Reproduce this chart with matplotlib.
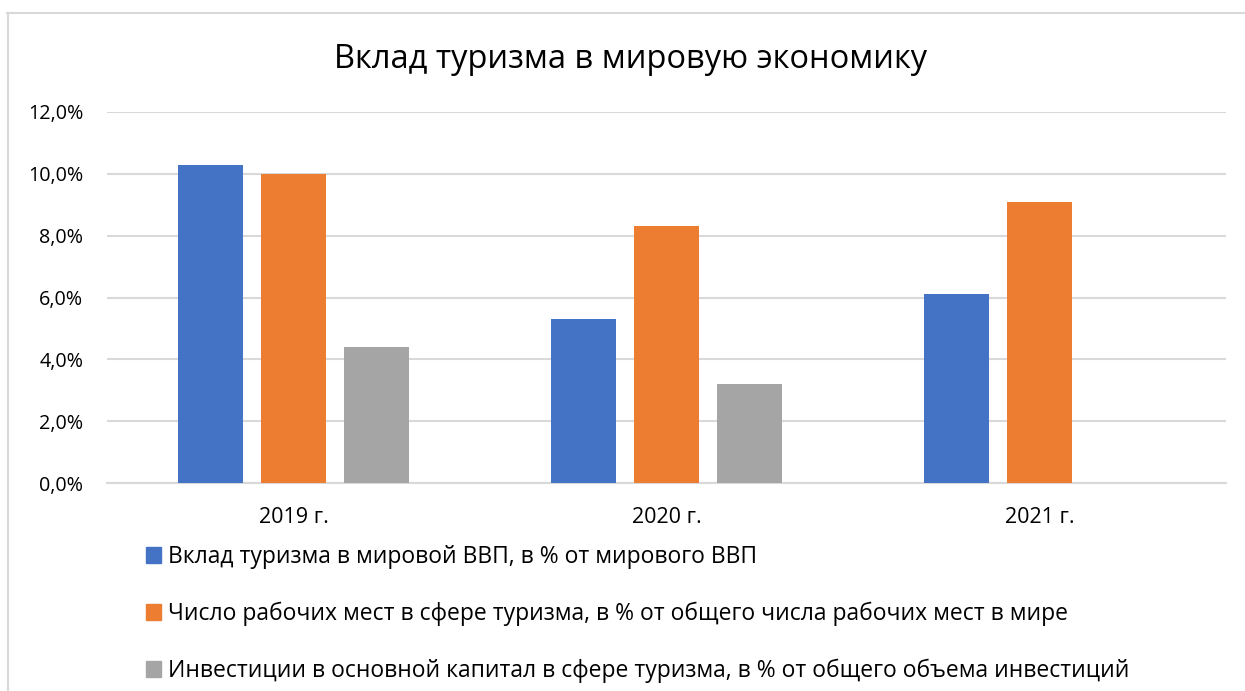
import numpy as np
import matplotlib
matplotlib.use("Agg")
import matplotlib.pyplot as plt
from matplotlib.patches import Patch
from matplotlib.lines import Line2D
from matplotlib.ticker import FuncFormatter

plt.rcParams['font.family'] = ['Open Sans', 'DejaVu Sans']

# ---------- data ----------
years = ["2019 г.", "2020 г.", "2021 г."]
gdp_share = [10.3, 5.3, 6.1]
jobs_share = [10.0, 8.3, 9.1]
invest_share = [4.4, 3.2, 0.0]
series_names = [
    "Вклад туризма в мировой ВВП, в % от мирового ВВП",
    "Число рабочих мест в сфере туризма, в % от общего числа рабочих мест в мире",
    "Инвестиции в основной капитал в сфере туризма, в % от общего объема инвестиций",
]
colors = ["#4472c4", "#ed7d31", "#a5a5a5"]

W, H = 1245, 691
fig = plt.figure(figsize=(W / 100, H / 100), dpi=100)
ax = fig.add_axes([107 / W, 1 - 483 / H, (1226 - 107) / W, (483 - 112) / H])

x = np.arange(len(years))
width = 0.174
step = 0.222
for i, (vals, col) in enumerate(zip([gdp_share, jobs_share, invest_share], colors)):
    ax.bar(x + (i - 1) * step, vals, width, color=col, zorder=3)

ax.set_xlim(-0.5, 2.5)
ax.set_ylim(0, 12)
ax.set_yticks(np.arange(0, 12.1, 2))
ax.yaxis.set_major_formatter(FuncFormatter(lambda v, p: f"{v:.1f}%".replace(".", ",")))
ax.set_xticks(x)
ax.set_xticklabels(years)
ax.grid(axis="y", color="#d9d9d9", linewidth=1.5, zorder=0)
for s in ["top", "right", "left"]:
    ax.spines[s].set_visible(False)
ax.spines["bottom"].set_color("#d9d9d9")
ax.spines["bottom"].set_linewidth(1.5)
ax.tick_params(length=0, colors="#000000")
ax.tick_params(axis="y", labelsize=14.2, pad=17)
ax.tick_params(axis="x", labelsize=15.5, pad=17)

fig.text(631 / W, 1 - 60 / H, "Вклад туризма в мировую экономику", ha="center", va="center",
         fontsize=23.5)

handles = [Patch(color=c) for c in colors]
fig.legend(handles, series_names, loc="upper left", bbox_to_anchor=(137 / W, 1 - 536 / H),
           frameon=False, fontsize=16.5, handlelength=0.65, handleheight=0.65,
           handletextpad=0.3, labelspacing=1.42, borderaxespad=0)

# outer chart border (top and left only visible)
fig.add_artist(Line2D([7 / W, 1], [1 - 13 / H, 1 - 13 / H], color="#d9d9d9", linewidth=1.5))
fig.add_artist(Line2D([8 / W, 8 / W], [0, 1 - 13 / H], color="#d9d9d9", linewidth=1.5))

fig.savefig("out.png", dpi=100)
